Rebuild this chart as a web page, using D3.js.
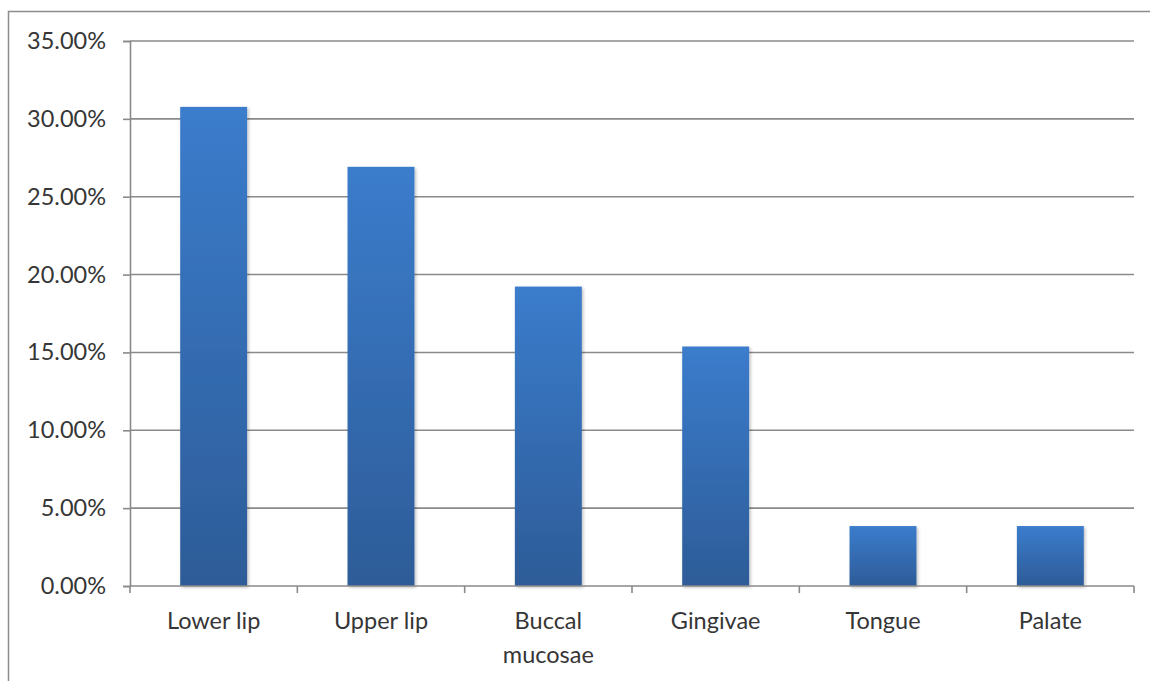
<!DOCTYPE html>
<html>
<head>
<meta charset="utf-8">
<script src="https://cdn.jsdelivr.net/npm/d3@7"></script>
<style>
  html, body { margin: 0; padding: 0; background: #fff; }
  svg { display: block; }
  text { font-family: Lato, "Open Sans", sans-serif; fill: #363636; }
</style>
</head>
<body>
<svg id="chart" width="1150" height="681"></svg>
<script>
// Share of lesions by oral site
const categories = ["Lower lip", "Upper lip", "Buccal mucosae", "Gingivae", "Tongue", "Palate"];
const shares = [0.3077, 0.2692, 0.1923, 0.1538, 0.0385, 0.0385];
const yTicks = [0, 0.05, 0.10, 0.15, 0.20, 0.25, 0.30, 0.35];

const svg = d3.select("#chart");
const margin = { left: 130, right: 16, top: 41, bottom: 95 };
const W = 1150, H = 681;
const FONT = 23.5;

// Chart-area frame
svg.append("rect")
  .attr("x", 8.5).attr("y", 11.5)
  .attr("width", 1160).attr("height", 700)
  .attr("fill", "none").attr("stroke", "#8c8c8c").attr("stroke-width", 1.5);

const x = d3.scaleBand().domain(categories)
  .range([margin.left, W - margin.right]).paddingInner(0.6).paddingOuter(0.3);
const y = d3.scaleLinear().domain([0, 0.35]).range([H - margin.bottom, margin.top]);

// Bar gradient
const defs = svg.append("defs");
const grad = defs.append("linearGradient").attr("id", "barGrad")
  .attr("x1", 0).attr("y1", 0).attr("x2", 0).attr("y2", 1);
grad.append("stop").attr("offset", "0%").attr("stop-color", "#3b7ccc");
grad.append("stop").attr("offset", "100%").attr("stop-color", "#2d5c98");
const shadow = defs.append("filter").attr("id", "barShadow")
  .attr("x", "-10%").attr("y", "-10%").attr("width", "130%").attr("height", "120%");
shadow.append("feDropShadow").attr("dx", 1.5).attr("dy", 1.5).attr("stdDeviation", 1.5)
  .attr("flood-color", "#000").attr("flood-opacity", 0.25);

// Horizontal gridlines
svg.append("g")
  .selectAll("line").data(yTicks.filter(d => d > 0)).join("line")
  .attr("x1", margin.left).attr("x2", W - margin.right)
  .attr("y1", d => y(d)).attr("y2", d => y(d))
  .attr("stroke", "#8a8a8a").attr("stroke-width", 1.6);

// Y axis
const yAxis = svg.append("g").attr("transform", `translate(${margin.left},0)`)
  .call(d3.axisLeft(y).tickValues(yTicks).tickFormat(d3.format(".2%")).tickSize(7).tickPadding(17));
yAxis.select(".domain").attr("stroke", "#8a8a8a").attr("stroke-width", 1.6);
yAxis.selectAll(".tick line").attr("stroke", "#8a8a8a").attr("stroke-width", 1.6);
yAxis.selectAll(".tick text").attr("font-size", FONT).attr("fill", "#363636")
  .attr("font-family", "Lato, sans-serif");

// Bars
svg.append("g")
  .selectAll("rect").data(categories).join("rect")
  .attr("x", d => x(d))
  .attr("width", x.bandwidth())
  .attr("y", (d, i) => y(shares[i]))
  .attr("height", (d, i) => y(0) - y(shares[i]))
  .attr("fill", "url(#barGrad)")
  .attr("filter", "url(#barShadow)");

// X axis with category dividers
const x0 = margin.left, x1 = W - margin.right;
const step = (x1 - x0) / categories.length;
const xg = svg.append("g");
xg.append("line").attr("x1", x0).attr("x2", x1)
  .attr("y1", y(0)).attr("y2", y(0))
  .attr("stroke", "#8a8a8a").attr("stroke-width", 1.6);
xg.selectAll("line.div").data(d3.range(categories.length + 1)).join("line")
  .attr("class", "div")
  .attr("x1", i => x0 + i * step).attr("x2", i => x0 + i * step)
  .attr("y1", y(0)).attr("y2", y(0) + 7)
  .attr("stroke", "#8a8a8a").attr("stroke-width", 1.6);

// Category labels (wrapped where needed)
const labelLines = { "Buccal mucosae": ["Buccal", "mucosae"] };
xg.selectAll("text.cat").data(categories).join("text")
  .attr("class", "cat")
  .attr("text-anchor", "middle")
  .attr("font-size", FONT)
  .attr("transform", d => `translate(${x(d) + x.bandwidth() / 2},${y(0) + 43})`)
  .each(function (d) {
    const lines = labelLines[d] || [d];
    d3.select(this).selectAll("tspan").data(lines).join("tspan")
      .attr("x", 0).attr("dy", (l, i) => i === 0 ? 0 : 34).text(l => l);
  });
</script>
</body>
</html>
